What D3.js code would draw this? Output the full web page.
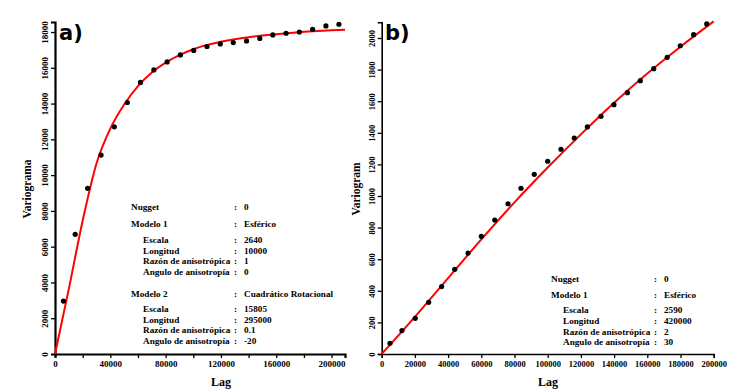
<!DOCTYPE html>
<html>
<head>
<meta charset="utf-8">
<script src="https://cdn.jsdelivr.net/npm/d3@7"></script>
<style>
  body { margin: 0; background: #fff; }
  svg text { font-family: "Liberation Serif", "Times New Roman", serif; font-weight: bold; }
  .panel-tag { font-family: "DejaVu Sans", sans-serif !important; }
</style>
</head>
<body>
<svg id="chart" width="736" height="391"></svg>
<script>
var lagsA = [6100, 14600, 23600, 33300, 42900, 52300, 61800, 71500, 81100, 90700, 100300,
             109900, 119500, 128900, 138500, 148100, 157500, 167100, 176700, 186300, 195900, 205300];
var gammaA = [2960, 6690, 9260, 11120, 12700, 14060, 15180, 15880, 16330, 16720, 16970,
              17190, 17335, 17410, 17500, 17640, 17840, 17930, 18000, 18155, 18340, 18435];
var modelLagA = [0, 10000, 20000, 30000, 40000, 50000, 60000, 70000, 80000, 90000, 100000,
                 110000, 120000, 130000, 140000, 150000, 160000, 170000, 180000, 190000, 200000, 209700];
var modelA = [0, 3640, 7450, 10650, 12600, 13950, 14980, 15740, 16290, 16710, 17040,
              17280, 17460, 17600, 17710, 17800, 17880, 17950, 18010, 18060, 18100, 18130];
var ticksXA = [0, 20000, 40000, 60000, 80000, 100000, 120000, 140000, 160000, 180000, 200000];
var ticksYA = [0, 2000, 4000, 6000, 8000, 10000, 12000, 14000, 16000, 18000];
var infoA = [
  ["Nugget", "0", 0],
  ["Modelo 1", "Esférico", 0],
  ["Escala", "2640", 1],
  ["Longitud", "10000", 1],
  ["Razón de anisotrópica", "1", 1],
  ["Angulo de anisotropía", "0", 1],
  ["Modelo 2", "Cuadrático Rotacional", 0],
  ["Escala", "15805", 1],
  ["Longitud", "295000", 1],
  ["Razón de anisotrópica", "0.1", 1],
  ["Angulo de anisotropía", "-20", 1]
];
var infoYA = [207, 224, 240, 250.7, 261, 271.3, 293.7, 309, 319.7, 330, 340.7];

// ---- panel b data
var lagsB = [5000, 12200, 20200, 28300, 36100, 44000, 52000, 60000, 68100, 76100, 83900, 91900, 100000,
             108000, 116000, 123900, 132100, 139900, 148000, 155800, 163900, 172000, 179900, 187900, 195800];
var gammaB = [68, 148, 226, 327, 427, 536, 639, 745, 848, 951, 1049, 1137, 1220,
              1296, 1367, 1437, 1504, 1578, 1654, 1730, 1806, 1878, 1951, 2021, 2089];
var modelLagB = [0, 20000, 40000, 60000, 80000, 100000, 120000, 140000, 160000, 180000, 200000];
var modelB = [0, 235, 480, 725, 960, 1180, 1390, 1590, 1775, 1945, 2105];
var ticksXB = [0, 20000, 40000, 60000, 80000, 100000, 120000, 140000, 160000, 180000, 200000];
var ticksYB = [0, 200, 400, 600, 800, 1000, 1200, 1400, 1600, 1800, 2000];
var infoB = [
  ["Nugget", "0", 0],
  ["Modelo 1", "Esférico", 0],
  ["Escala", "2590", 1],
  ["Longitud", "420000", 1],
  ["Razón de anisotrópica", "2", 1],
  ["Angulo de anisotropía", "30", 1]
];
var infoYB = [278.3, 294.3, 310, 320.7, 331.3, 342];

var svg = d3.select("#chart");
var plain = d3.format("d");

function drawPanel(opt) {
  var x = d3.scaleLinear().domain(opt.xDomain).range(opt.xRange);
  var y = d3.scaleLinear().domain(opt.yDomain).range([354, opt.yTop]);
  var g = svg.append("g");

  // x axis
  var xAxis = g.append("g")
    .attr("transform", "translate(0," + y(0) + ")")
    .call(d3.axisBottom(x).tickValues(opt.ticksX).tickSizeOuter(0).tickSize(4)
      .tickFormat(function(d) { return opt.xLabelEvery(d) ? plain(d) : ""; }));
  xAxis.select(".domain").attr("stroke-width", opt.axisWidth);
  xAxis.selectAll(".tick line").attr("stroke-width", 1.3);
  xAxis.selectAll("text").attr("font-size", opt.tickFont).attr("fill", "#000")
    .attr("y", 7).attr("dy", "0.71em")
    .style("font-family", "'Liberation Serif', serif").style("font-weight", "bold");

  // y axis
  var yAxis = g.append("g")
    .attr("transform", "translate(" + x(0) + ",0)")
    .call(d3.axisLeft(y).tickValues(opt.ticksY).tickSizeOuter(0).tickSize(4).tickFormat(plain));
  yAxis.select(".domain").attr("stroke-width", opt.axisWidth);
  yAxis.selectAll(".tick line").attr("stroke-width", 1.3);
  yAxis.selectAll("text").attr("font-size", opt.tickFont).attr("fill", "#000")
    .attr("x", 0).attr("dy", 0).attr("text-anchor", "middle")
    .attr("transform", "translate(" + opt.yLabelOff + ",0) rotate(-90)")
    .style("font-family", "'Liberation Serif', serif").style("font-weight", "bold");

  // model curve
  var line = d3.line()
    .x(function(d, i) { return x(opt.modelLag[i]); })
    .y(function(d) { return y(d); })
    .curve(d3.curveMonotoneX);
  g.append("path")
    .datum(opt.model)
    .attr("d", line)
    .attr("fill", "none")
    .attr("stroke", "#ff0000")
    .attr("stroke-width", 2);

  // experimental points
  g.selectAll(".pt")
    .data(opt.gamma)
    .enter().append("circle")
      .attr("class", "pt")
      .attr("cx", function(d, i) { return x(opt.lags[i]); })
      .attr("cy", function(d) { return y(d); })
      .attr("r", 2.6)
      .attr("fill", "#000");

  // axis titles
  g.append("text")
    .attr("x", opt.lagX).attr("y", 386)
    .attr("text-anchor", "middle").attr("font-size", 12)
    .text("Lag");
  g.append("text")
    .attr("transform", "translate(" + opt.yTitleX + ",189) rotate(-90)")
    .attr("text-anchor", "middle").attr("font-size", 11.5)
    .text(opt.yTitle);

  // panel tag
  g.append("text")
    .attr("class", "panel-tag")
    .attr("x", opt.tagX).attr("y", 40)
    .attr("font-size", 21)
    .text(opt.tag);

  // model info block
  var info = g.append("g").attr("font-size", 9.2);
  opt.info.forEach(function(row, i) {
    var yy = opt.infoY[i] + 3.3;
    info.append("text").attr("x", opt.infoX + (row[2] ? 12 : 0)).attr("y", yy).text(row[0]);
    info.append("text").attr("x", opt.colonX).attr("y", yy).text(":");
    info.append("text").attr("x", opt.colonX + 10).attr("y", yy).text(row[1]);
  });
}

drawPanel({
  xDomain: [0, 209700], xRange: [55, 345], yDomain: [0, 18560], yTop: 22,
  ticksX: ticksXA, ticksY: ticksYA, xLabelEvery: function(d) { return d % 40000 === 0; },
  lags: lagsA, gamma: gammaA, modelLag: modelLagA, model: modelA,
  axisWidth: 2.2, tickFont: 9, yLabelOff: -7,
  lagX: 221, yTitleX: 31, yTitle: "Variograma", tagX: 59, tag: "a)",
  info: infoA, infoY: infoYA, infoX: 131, colonX: 234
});

drawPanel({
  xDomain: [0, 200000], xRange: [381.7, 713.7], yDomain: [0, 2100], yTop: 22.2,
  ticksX: ticksXB, ticksY: ticksYB, xLabelEvery: function(d) { return true; },
  lags: lagsB, gamma: gammaB, modelLag: modelLagB, model: modelB,
  axisWidth: 1.6, tickFont: 8.5, yLabelOff: -7,
  lagX: 548, yTitleX: 360, yTitle: "Variogram", tagX: 385, tag: "b)",
  info: infoB, infoY: infoYB, infoX: 551, colonX: 654
});
</script>
</body>
</html>
